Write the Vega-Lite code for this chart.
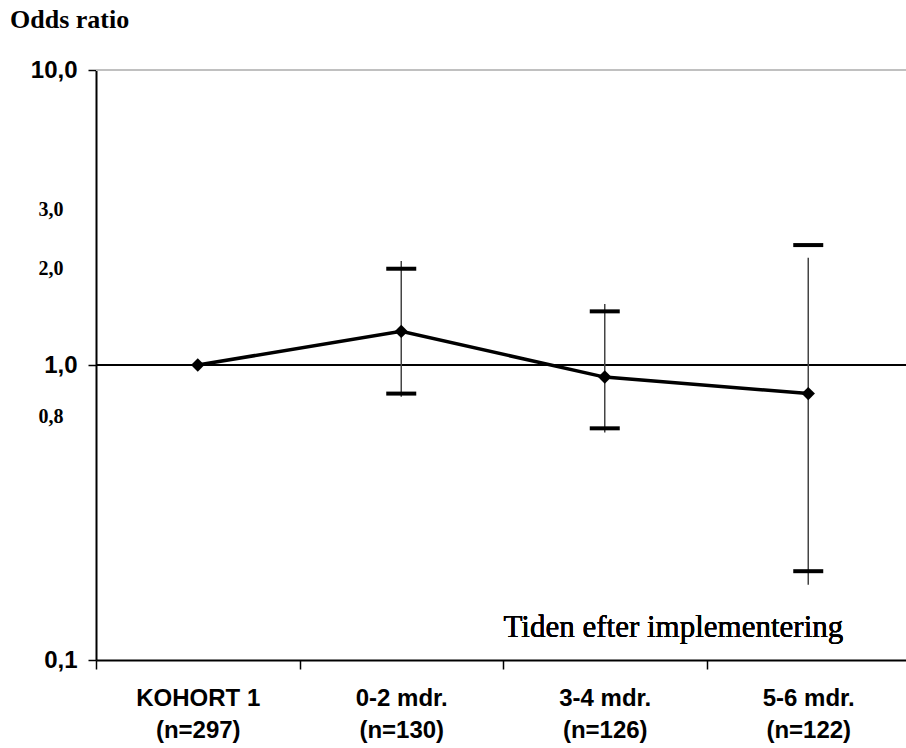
{
  "$schema": "https://vega.github.io/schema/vega-lite/v6.json",
  "width": 810,
  "height": 590,
  "autosize": {"type": "none"},
  "padding": {"left": 96, "top": 70, "right": 0, "bottom": 88},
  "background": "white",
  "config": {"view": {"stroke": null}, "axis": {"grid": false}},
  "title": {
    "text": "Odds ratio",
    "anchor": "start",
    "frame": "group",
    "font": "Liberation Serif",
    "fontSize": 26,
    "fontWeight": "bold",
    "color": "black",
    "dx": -86,
    "offset": 4,
    "baseline": "alphabetic"
  },
  "data": {
    "values": [
      {"group": "KOHORT 1|(n=297)", "or": 1.0},
      {"group": "0-2 mdr.|(n=130)", "or": 1.30, "lo": 0.80, "hi": 2.12, "lineLo": 0.78, "lineHi": 2.25},
      {"group": "3-4 mdr.|(n=126)", "or": 0.91, "lo": 0.61, "hi": 1.52, "lineLo": 0.59, "lineHi": 1.61},
      {"group": "5-6 mdr.|(n=122)", "or": 0.80, "lo": 0.20, "hi": 2.55, "lineLo": 0.18, "lineHi": 2.31}
    ]
  },
  "encoding": {
    "x": {
      "field": "group",
      "type": "nominal",
      "sort": null,
      "scale": {
        "domain": ["KOHORT 1|(n=297)", "0-2 mdr.|(n=130)", "3-4 mdr.|(n=126)", "5-6 mdr.|(n=122)"],
        "range": [0, 814]
      },
      "axis": {
        "title": null,
        "labelExpr": "split(datum.label, '|')",
        "labelAngle": 0,
        "labelFont": "Liberation Sans",
        "labelFontSize": 24,
        "labelFontWeight": "bold",
        "labelColor": "black",
        "labelLineHeight": 32,
        "labelPadding": 17,
        "labelBaseline": "top",
        "tickBand": "extent",
        "tickSize": 9,
        "tickColor": "black",
        "tickWidth": 1.5,
        "domainColor": "black",
        "domainWidth": 2
      }
    }
  },
  "layer": [
    {
      "mark": {"type": "rule", "color": "#c0c0c0", "strokeWidth": 2},
      "encoding": {
        "x": null,
        "y": {"datum": 10, "type": "quantitative", "scale": {"type": "log", "domain": [0.1, 10]}}
      }
    },
    {
      "mark": {"type": "rule", "color": "black", "strokeWidth": 1.5},
      "encoding": {
        "x": null,
        "y": {"datum": 1, "type": "quantitative", "scale": {"type": "log", "domain": [0.1, 10]}}
      }
    },
    {
      "transform": [{"filter": "isValid(datum.lineLo)"}],
      "mark": {"type": "rule", "color": "#444444", "strokeWidth": 1.5},
      "encoding": {
        "y": {"field": "lineLo", "type": "quantitative", "scale": {"type": "log", "domain": [0.1, 10]}},
        "y2": {"field": "lineHi"}
      }
    },
    {
      "transform": [{"filter": "isValid(datum.lo)"}],
      "mark": {"type": "tick", "color": "black", "size": 30, "thickness": 4, "opacity": 1},
      "encoding": {
        "y": {"field": "lo", "type": "quantitative", "scale": {"type": "log", "domain": [0.1, 10]}}
      }
    },
    {
      "transform": [{"filter": "isValid(datum.hi)"}],
      "mark": {"type": "tick", "color": "black", "size": 30, "thickness": 4, "opacity": 1},
      "encoding": {
        "y": {"field": "hi", "type": "quantitative", "scale": {"type": "log", "domain": [0.1, 10]}}
      }
    },
    {
      "mark": {"type": "line", "color": "black", "strokeWidth": 3.5},
      "encoding": {
        "y": {
          "field": "or",
          "type": "quantitative",
          "scale": {"type": "log", "domain": [0.1, 10]},
          "axis": {
            "title": null,
            "values": [0.1, 0.8, 1, 2, 3, 10],
            "labelExpr": "replace(format(datum.value, '.1f'), '.', ',')",
            "domainColor": "black",
            "domainWidth": 2,
            "tickColor": "black",
            "tickWidth": 1.5,
            "tickSize": 8,
            "tickOpacity": {"condition": {"test": "datum.value == 0.8 || datum.value == 2 || datum.value == 3", "value": 0}, "value": 1},
            "labelFont": {"condition": {"test": "datum.value == 0.8 || datum.value == 2 || datum.value == 3", "value": "Liberation Serif"}, "value": "Liberation Sans"},
            "labelFontSize": {"condition": {"test": "datum.value == 0.8 || datum.value == 2 || datum.value == 3", "value": 20}, "value": 24},
            "labelPadding": {"condition": {"test": "datum.value == 0.8 || datum.value == 2 || datum.value == 3", "value": 25}, "value": 11},
            "labelOffset": {"condition": [
              {"test": "datum.value == 3", "value": -15},
              {"test": "datum.value == 2", "value": -8},
              {"test": "datum.value == 0.8", "value": 23}
            ], "value": 0},
            "labelFontWeight": "bold",
            "labelColor": "black",
            "labelOverlap": false,
            "labelBound": false,
            "labelFlush": false
          }
        }
      }
    },
    {
      "mark": {"type": "point", "shape": "diamond", "filled": true, "color": "black", "size": 180, "opacity": 1},
      "encoding": {
        "y": {"field": "or", "type": "quantitative", "scale": {"type": "log", "domain": [0.1, 10]}}
      }
    },
    {
      "mark": {
        "type": "text",
        "text": "Tiden efter implementering",
        "font": "Liberation Serif",
        "fontSize": 31,
        "color": "black",
        "align": "right",
        "baseline": "alphabetic",
        "dx": 35
      },
      "encoding": {
        "x": {"datum": "5-6 mdr.|(n=122)", "type": "nominal"},
        "y": {"datum": 0.12, "type": "quantitative", "scale": {"type": "log", "domain": [0.1, 10]}}
      }
    }
  ]
}
